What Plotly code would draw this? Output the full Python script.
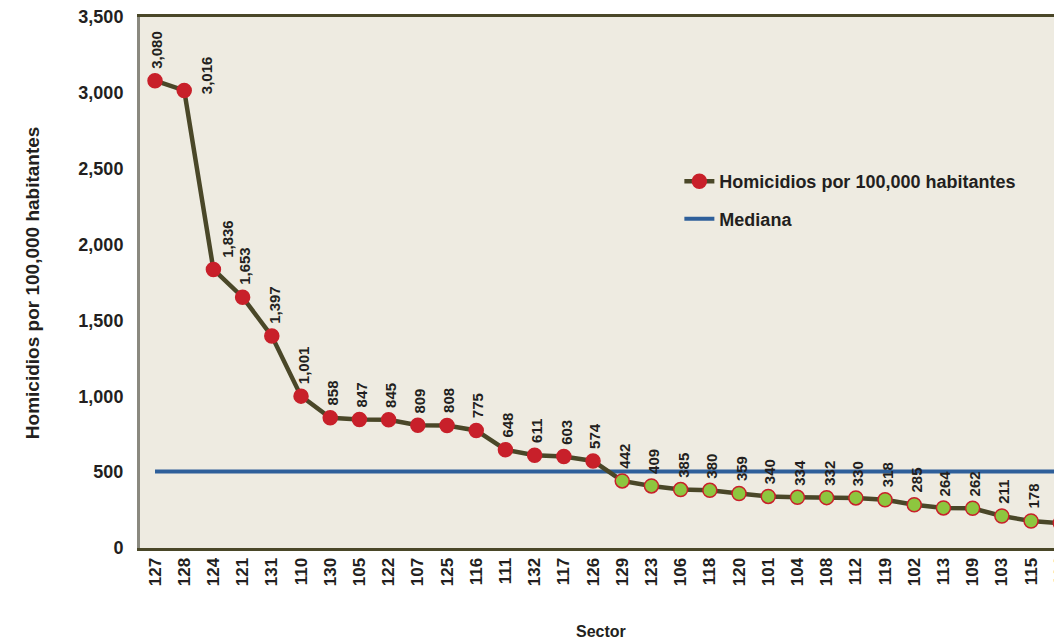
import plotly.graph_objects as go

sectores = ["127", "128", "124", "121", "131", "110", "130", "105", "122", "107", "125", "116",
            "111", "132", "117", "126", "129", "123", "106", "118", "120", "101", "104", "108",
            "112", "119", "102", "113", "109", "103", "115", "114"]
tasas = [3080, 3016, 1836, 1653, 1397, 1001, 858, 847, 845, 809, 808, 775,
         648, 611, 603, 574, 442, 409, 385, 380, 359, 340, 334, 332,
         330, 318, 285, 264, 262, 211, 178, 164]
mediana = 505

idx = list(range(len(sectores)))
colores = ["#c8202a" if v > mediana else "#8dc63f" for v in tasas]
fuente = "Liberation Sans, Arial, sans-serif"
negro = "#231f20"

fig = go.Figure()

fig.add_trace(go.Scatter(
    x=[0, len(sectores) + 1], y=[mediana, mediana], mode="lines",
    name="<b>Mediana</b>", line=dict(color="#2e5f9a", width=4),
    legendgroup="b", legendrank=2,
))
fig.add_trace(go.Scatter(
    x=idx, y=tasas, mode="lines+markers",
    name="<b>Homicidios por 100,000 habitantes</b>",
    line=dict(color="#4a4728", width=4.5),
    marker=dict(size=14, color=colores, line=dict(color="#c8202a", width=1.5)),
    legendgroup="a", legendrank=1,
))

# etiquetas de datos rotadas
ajustes = {"128": dict(xanchor="left", xshift=12, yshift=-6),
           "124": dict(xshift=14)}
for i, (s, v) in enumerate(zip(sectores, tasas)):
    kw = dict(xanchor="center", yanchor="bottom", xshift=2, yshift=10)
    kw.update(ajustes.get(s, {}))
    fig.add_annotation(x=i, y=v, text=f"<b>{v:,}</b>", showarrow=False, textangle=-90,
                       font=dict(family=fuente, size=15, color=negro), **kw)

fig.add_annotation(x=0.5, y=-0.158, xref="paper", yref="paper", text="<b>Sector</b>",
                   showarrow=False, font=dict(family=fuente, size=16, color=negro),
                   yanchor="middle")
fig.add_annotation(x=-0.130, y=0.5, xref="paper", yref="paper",
                   text="<b>Homicidios por 100,000 habitantes</b>", textangle=-90,
                   showarrow=False, font=dict(family=fuente, size=19, color=negro))

fig.update_xaxes(
    range=[-0.514, 31.06], tickmode="array", tickvals=idx,
    ticktext=[f"<b>{s}</b>" for s in sectores], tickangle=-90,
    tickfont=dict(family=fuente, size=17, color=negro), ticks="",
    showgrid=False, zeroline=False, showline=True, linecolor="#4a4728",
    linewidth=3, mirror=True, ticklabelstandoff=0, automargin=False,
    ticklabeloverflow="allow",
)
fig.update_yaxes(
    range=[0, 3500], dtick=500, tickformat=",", showgrid=False, zeroline=False,
    tickfont=dict(family=fuente, size=18, color=negro), ticks="",
    showline=True, linecolor="#8a897f", linewidth=3, ticklabelstandoff=10,
    tickprefix="<b>", ticksuffix="</b>", automargin=False,
    ticklabeloverflow="allow",
)

# la página añade 8 px de margen, se compensa en el tamaño
fig.update_layout(
    width=1054, height=633,
    margin=dict(l=132, r=0, t=9, b=93, autoexpand=False),
    paper_bgcolor="white", plot_bgcolor="#eeebe1",
    showlegend=True,
    legend=dict(x=0.585, y=0.725, xanchor="left", yanchor="top",
                bgcolor="rgba(0,0,0,0)", tracegroupgap=11,
                font=dict(family=fuente, size=18, color=negro)),
    font=dict(family=fuente, color=negro),
)

fig.write_html("out.html")
